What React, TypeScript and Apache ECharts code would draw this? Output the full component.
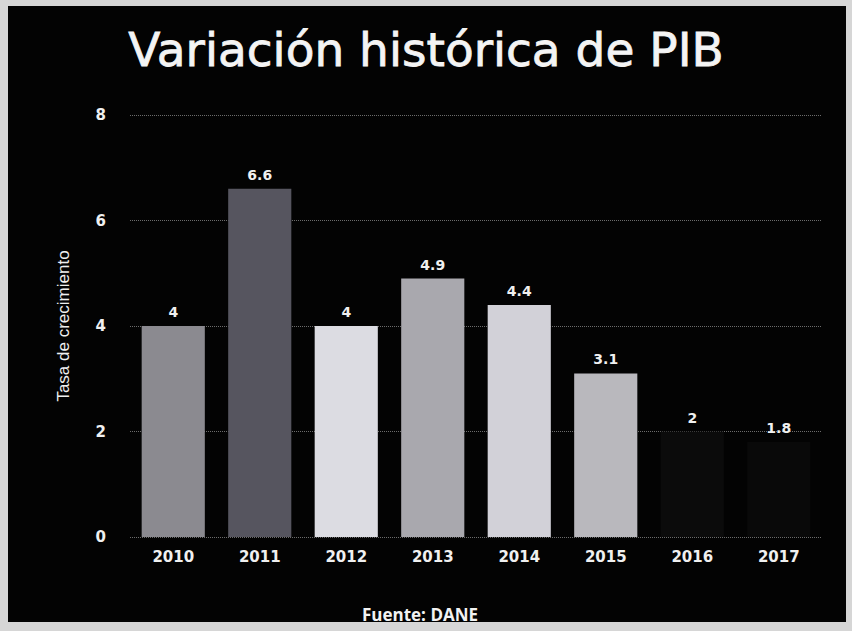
import React, { useEffect, useRef } from "react";
import * as echarts from "echarts";

const years = ["2010", "2011", "2012", "2013", "2014", "2015", "2016", "2017"];
const growth = [4, 6.6, 4, 4.9, 4.4, 3.1, 2, 1.8];
const barColors = ["#8b8a90", "#56555f", "#dcdce2", "#a9a8ae", "#d2d1d8", "#b9b8bd", "#0b0b0b", "#090909"];
const yTicks = { min: 0, max: 8, interval: 2 };

export default function App() {
  const ref = useRef<HTMLDivElement>(null);
  useEffect(() => {
    document.body.style.margin = "0";
    const chart = echarts.init(ref.current!, null, { renderer: "svg" });
    chart.setOption({
      animation: false,
      backgroundColor: "#d6d6d6",
      graphic: [
        {
          type: "rect",
          z: -10,
          shape: { x: 8, y: 6, width: 838, height: 616 },
          style: { fill: "#030303" },
        },
      ],
      title: {
        text: "Variación histórica de PIB",
        left: "center",
        top: 21,
        textStyle: {
          color: "#f4f4f4",
          fontSize: 47,
          fontWeight: 400,
          fontFamily: "DejaVu Sans",
          textBorderColor: "#f4f4f4",
          textBorderWidth: 0.8,
        },
      },
      grid: { left: 130, right: 30, top: 115, bottom: 94 },
      xAxis: {
        type: "category",
        data: years,
        axisLine: { show: false },
        axisTick: { show: false },
        axisLabel: {
          color: "#f0f0f0",
          fontFamily: "DejaVu Sans",
          fontWeight: "bold",
          fontSize: 15,
          margin: 12,
        },
      },
      yAxis: {
        type: "value",
        min: yTicks.min,
        max: yTicks.max,
        interval: yTicks.interval,
        name: "Tasa de crecimiento",
        nameLocation: "middle",
        nameGap: 58,
        nameTextStyle: { color: "#f0f0f0", fontSize: 17, fontFamily: "Liberation Sans" },
        axisLine: { show: false },
        axisTick: { show: false },
        axisLabel: {
          color: "#f0f0f0",
          fontFamily: "DejaVu Sans",
          fontWeight: "bold",
          fontSize: 15,
          margin: 24,
        },
        splitLine: { lineStyle: { color: "#6c6c6c", type: "dotted", width: 1 } },
      },
      series: [
        {
          type: "bar",
          data: growth.map((v, i) => ({ value: v, itemStyle: { color: barColors[i] } })),
          barCategoryGap: "27%",
          label: {
            show: true,
            position: "top",
            distance: 7,
            color: "#f0f0f0",
            fontFamily: "DejaVu Sans",
            fontWeight: "bold",
            fontSize: 14,
          },
        },
      ],
    });
    return () => chart.dispose();
  }, []);
  return (
    <div style={{ position: "relative" }}>
      <div ref={ref} style={{ width: 852, height: 631 }} />
      <div
        style={{
          position: "absolute",
          left: 0,
          top: 603,
          width: 840,
          textAlign: "center",
          color: "#f2f2f2",
          fontFamily: "Open Sans",
          fontWeight: 700,
          fontSize: 17,
        }}
      >
        Fuente: DANE
      </div>
    </div>
  );
}
